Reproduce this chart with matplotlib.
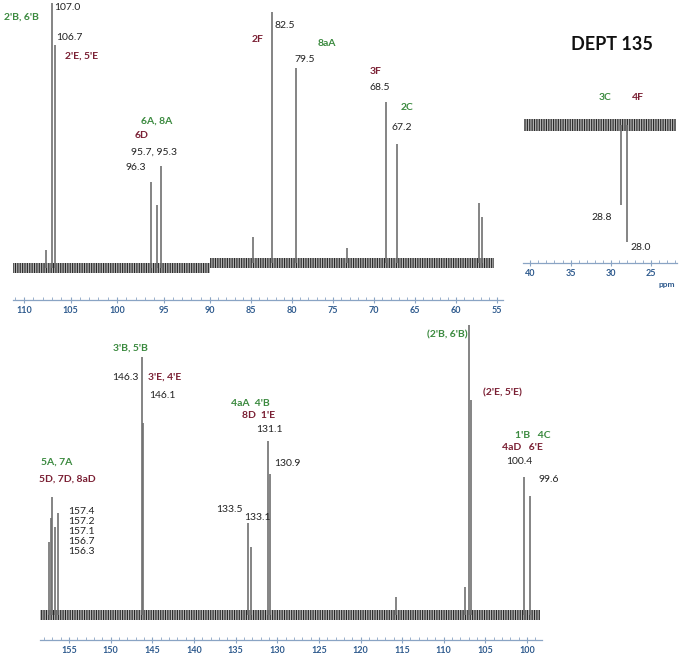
import matplotlib.pyplot as plt
from matplotlib.ticker import MultipleLocator

plt.rcParams['font.family'] = ['Lato', 'DejaVu Sans']
plt.rcParams['hatch.linewidth'] = 0.8

# picos (ppm, intensidad relativa)
top_left_ppm = [107.6, 107.0, 106.7, 96.3, 95.7, 95.3]
top_left_int = [18, 265, 223, 86, 63, 102]
top_right_ppm = [84.8, 82.5, 79.5, 73.3, 68.5, 67.2, 57.2, 56.9]
top_right_int = [26, 251, 195, 15, 161, 119, 60, 46]
dept_ppm = [28.8, 28.0]
dept_int = [-80, -117]
bot_ppm = [157.4, 157.2, 157.1, 156.7, 156.3, 146.3, 146.1, 133.5, 133.1,
           131.1, 130.9, 115.7, 107.5, 107.0, 106.7, 100.4, 99.6]
bot_int = [73, 97, 118, 88, 102, 258, 192, 92, 68,
           174, 141, 18, 28, 290, 215, 138, 119]

# rango registrado de cada espectro
top_left_span = [111.2, 90]
top_right_span = [90, 55.4]
dept_span = [40.8, 21.9]
bot_span = [158.5, 98.4]

W, H = 685, 656
fig = plt.figure(figsize=(W / 100, H / 100), dpi=100)

axis_col = '#8aa4c4'
tick_col = '#2f5b8e'
green = '#3b8a3f'
red = '#7a1f33'
peak_col = '#6f6f6f'


def rect(x0, y0, x1, y1):  # caja en pixeles, y desde arriba
    return [x0 / W, 1 - y1 / H, (x1 - x0) / W, (y1 - y0) / H]


def style(ax, ticks):
    for s in ['top', 'left', 'right']:
        ax.spines[s].set_visible(False)
    ax.spines['bottom'].set_color(axis_col)
    ax.spines['bottom'].set_linewidth(0.9)
    ax.yaxis.set_visible(False)
    ax.set_xticks(ticks)
    ax.xaxis.set_minor_locator(MultipleLocator(1))
    ax.tick_params(axis='x', which='major', direction='inout', length=4, width=0.8,
                   color=axis_col, labelsize=6.5, labelcolor=tick_col, pad=2)
    ax.tick_params(axis='x', which='minor', direction='in', length=2, width=0.6, color=axis_col)
    for lab in ax.get_xticklabels():
        lab.set_fontweight('bold')
    ax.patch.set_alpha(0)


def spectrum(ax, span, ppm, inten, band=5):
    # banda de ruido de la linea base
    ax.fill_between(span, -band, band, facecolor='#b5b5b5', hatch='|||||||',
                    edgecolor='#262626', linewidth=0)
    ax.vlines(ppm, 0, inten, color=peak_col, lw=1.2)


# panel superior izquierdo (110-90)
ax1 = fig.add_axes(rect(13, 0, 210, 300))
spectrum(ax1, top_left_span, top_left_ppm, top_left_int)
ax1.set_xlim(111.2, 90)
ax1.set_ylim(-32, 268)
style(ax1, [110, 105, 100, 95, 90])

# panel superior derecho (90-55)
ax2 = fig.add_axes(rect(210, 0, 503, 300))
spectrum(ax2, top_right_span, top_right_ppm, top_right_int)
ax2.set_xlim(90, 54.3)
ax2.set_ylim(-37, 263)
style(ax2, [85, 80, 75, 70, 65, 60, 55])

# DEPT 135
ax3 = fig.add_axes(rect(523, 100, 677, 263))
spectrum(ax3, dept_span, dept_ppm, dept_int, band=6)
ax3.set_xlim(40.9, 21.8)
ax3.set_ylim(-138, 25)
style(ax3, [40, 35, 30, 25])

# panel inferior
ax4 = fig.add_axes(rect(40, 320, 542, 640))
spectrum(ax4, bot_span, bot_ppm, bot_int)
ax4.set_xlim(158.5, 98.2)
ax4.set_ylim(-25, 295)
style(ax4, [155, 150, 145, 140, 135, 130, 125, 120, 115, 110, 105, 100])


def t(x, y, s, c='#222222', bold=False, ha='center', size=7.5):
    fig.text(x / W, 1 - y / H, s, color=c, ha=ha, va='center', fontsize=size,
             fontweight='bold' if bold else 'normal')


# etiquetas superiores
t(54, 7, '107.0', ha='left')
t(21, 17, "2'B, 6'B", green, True)
t(56, 38, '106.7', ha='left')
t(82, 56, "2'E, 5'E", red, True)
t(157, 121, '6A, 8A', green, True)
t(142, 135, '6D', red, True)
t(154, 152, '95.7, 95.3')
t(136, 167, '96.3')
t(258, 39, '2F', red, True)
t(285, 26, '82.5')
t(327, 43, '8aA', green, True)
t(305, 60, '79.5')
t(376, 72, '3F', red, True)
t(380, 88, '68.5')
t(407, 107, '2C', green, True)
t(402, 128, '67.2')

# DEPT
t(612, 45, 'DEPT 135', '#111111', True, size=13)
t(605, 97, '3C', green, True)
t(638, 97, '4F', red, True)
t(602, 218, '28.8')
t(641, 248, '28.0')
t(667, 285, 'ppm', tick_col, True, size=6)

# etiquetas inferiores
t(130, 348, "3'B, 5'B", green, True)
t(125, 377, '146.3')
t(165, 377, "3'E, 4'E", red, True)
t(162, 395, '146.1')
t(250, 403, "4aA  4'B", green, True)
t(259, 416, "8D  1'E", red, True)
t(269, 430, '131.1')
t(287, 464, '130.9')
t(229, 509, '133.5')
t(257, 517, '133.1')
t(57, 462, '5A, 7A', green, True)
t(67, 479, '5D, 7D, 8aD', red, True)
for i, s in enumerate(['157.4', '157.2', '157.1', '156.7', '156.3']):
    t(68, 512 + 10 * i, s, ha='left')
t(447, 335, "(2'B, 6'B)", green, True)
t(502, 393, "(2'E, 5'E)", red, True)
t(533, 435, "1'B   4C", green, True)
t(522, 448, "4aD   6'E", red, True)
t(519, 462, '100.4')
t(549, 479, '99.6')

fig.savefig('out.png', dpi=100)
